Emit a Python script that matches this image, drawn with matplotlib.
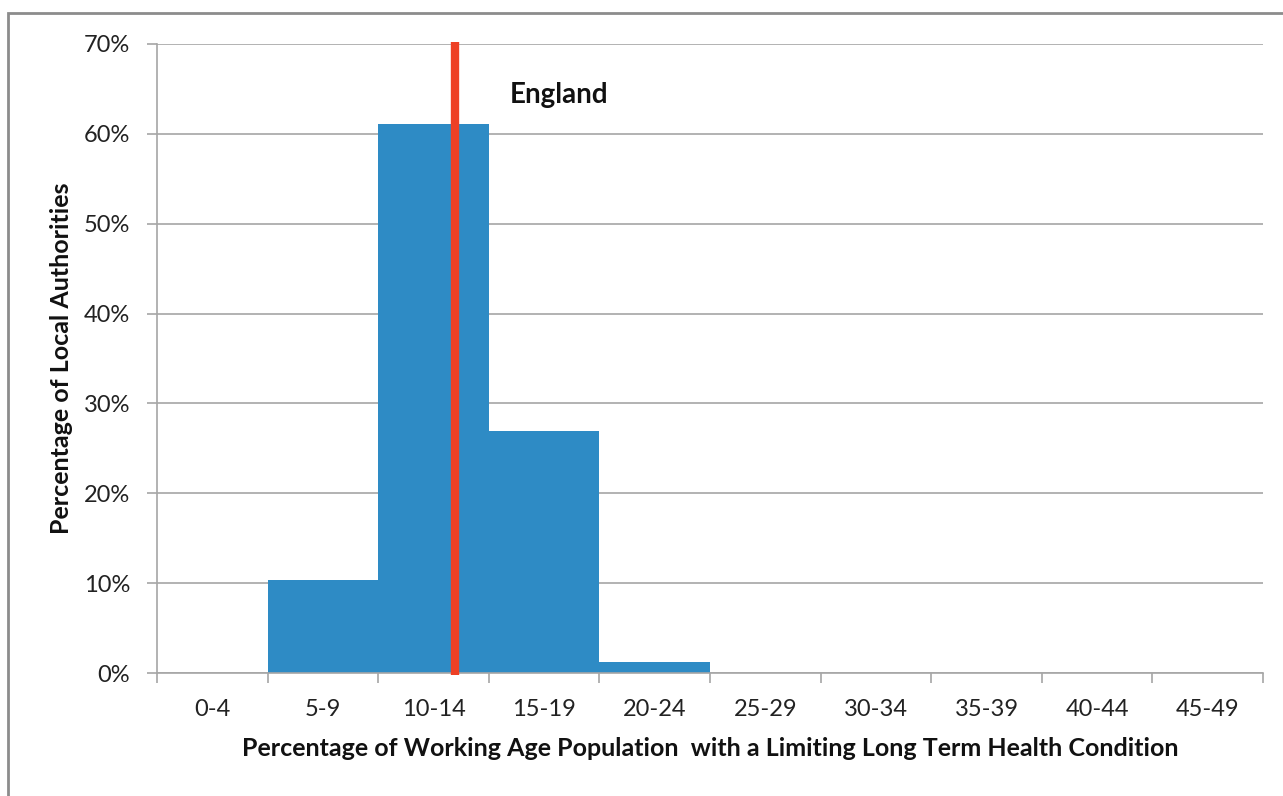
import matplotlib.pyplot as plt
from matplotlib.patches import Rectangle
from matplotlib.ticker import FuncFormatter, MultipleLocator

categories = ["0-4", "5-9", "10-14", "15-19", "20-24", "25-29",
              "30-34", "35-39", "40-44", "45-49"]
share_pct = [0.0, 10.4, 61.1, 26.9, 1.2, 0.0, 0.0, 0.0, 0.0, 0.0]
england_pos = 2.19  # position of England line on the category axis

plt.rcParams["font.family"] = ["Lato", "DejaVu Sans"]

W, H = 1283, 796
fig = plt.figure(figsize=(W / 100, H / 100), dpi=100)
ax = fig.add_axes([157 / W, 1 - 673 / H, (1263 - 157) / W, (673 - 44) / H])

# outer chart frame, runs off the right and bottom edge
fig.patches.append(Rectangle((8 / W, -0.1), 1.2, 1 - 13 / H + 0.1,
                             transform=fig.transFigure, fill=False,
                             edgecolor="#8c8c8c", linewidth=2))

x = range(len(categories))
ax.bar(x, share_pct, width=1.0, color="#2E8BC5", zorder=2)
ax.plot([england_pos, england_pos], [-0.2, 70.2], color="#EE4025",
        linewidth=6, solid_capstyle="butt", zorder=3, clip_on=False)
ax.text(england_pos + 0.5, 64.3, "England", fontsize=20, fontweight="bold",
        va="center", ha="left", color="#111111")

ax.set_xlim(-0.5, len(categories) - 0.5)
ax.set_ylim(0, 70)
ax.yaxis.set_major_locator(MultipleLocator(10))
ax.yaxis.set_major_formatter(FuncFormatter(lambda v, _: f"{v:.0f}%"))
ax.grid(axis="y", color="#a6a6a6", linewidth=1.2, zorder=0)

ax.set_xticks(list(x))
ax.set_xticklabels(categories)
ax.set_xticks([i - 0.5 for i in range(len(categories) + 1)], minor=True)
ax.tick_params(axis="x", which="major", length=0, pad=19, labelsize=17,
               labelcolor="#222222")
ax.tick_params(axis="x", which="minor", length=7.2, width=1.2, color="#a6a6a6")
ax.tick_params(axis="y", length=7.2, width=1.2, color="#a6a6a6", pad=12,
               labelsize=17, labelcolor="#222222")

for side in ("top", "right"):
    ax.spines[side].set_visible(False)
for side in ("left", "bottom"):
    ax.spines[side].set_color("#a6a6a6")
    ax.spines[side].set_linewidth(1.2)

ax.set_xlabel("Percentage of Working Age Population  with a Limiting Long Term Health Condition",
              fontsize=18, fontweight="bold", color="#111111")
ax.set_ylabel("Percentage of Local Authorities", fontsize=18,
              fontweight="bold", color="#111111")
ax.xaxis.set_label_coords(0.5, (673 - 748) / 629)
ax.xaxis.label.set_va("center")
ax.yaxis.set_label_coords((62 - 157) / 1106, 0.5)
ax.yaxis.label.set_va("center")

fig.savefig("out.png", dpi=100)
